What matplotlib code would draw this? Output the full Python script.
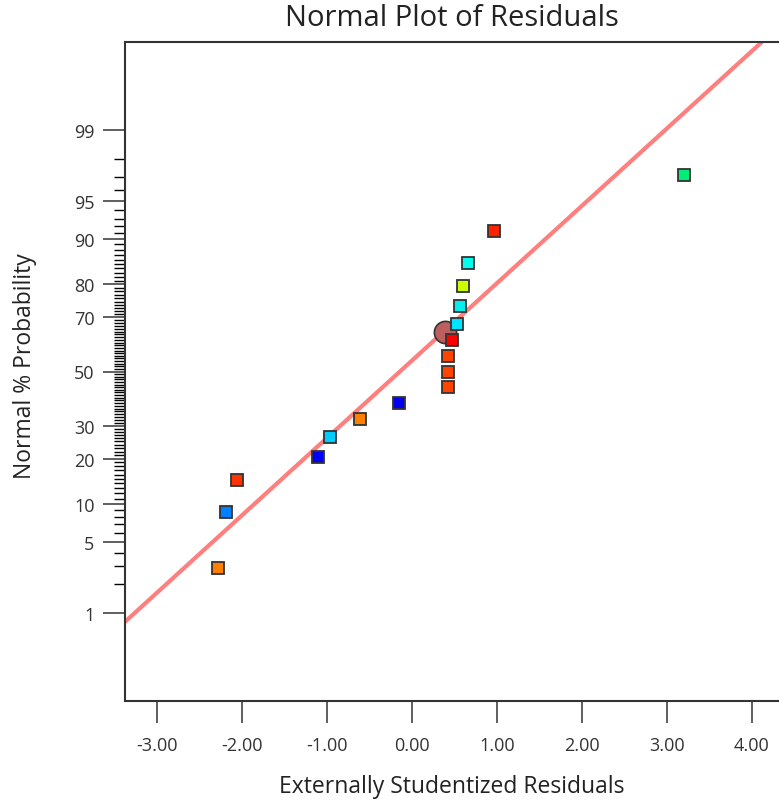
import matplotlib
matplotlib.use("Agg")
import matplotlib.pyplot as plt
from statistics import NormalDist

plt.rcParams['font.family'] = ['Open Sans', 'DejaVu Sans']

# externally studentized residuals, sorted, with their normal % probability
residuals = [-2.29, -2.19, -2.06, -1.11, -0.97, -0.61, -0.15, 0.42, 0.42, 0.42,
             0.47, 0.53, 0.57, 0.60, 0.66, 0.97, 3.20]
probability = [2.9, 8.8, 14.7, 20.6, 26.5, 32.4, 38.2, 44.1, 50.0, 55.9,
               61.8, 67.6, 73.5, 79.4, 85.3, 91.2, 97.1]
point_colors = ['#FF8000', '#0080FF', '#FF3300', '#0000FF', '#00CCFF', '#FF8000',
                '#0000EE', '#FF4400', '#FF4400', '#FF4400', '#FF0000', '#00E5FF',
                '#00EEEE', '#CCFF00', '#00FFEE', '#FF2200', '#00EE77']

# highlighted run
selected_x = 0.39
selected_pct = 64.9

# reference line, two anchor points (residual, %)
line_x = [-3.0, 3.0]
line_pct = [1.65, 99.05]

major_pct = [1, 5, 10, 20, 30, 50, 70, 80, 90, 95, 99]
minor_pct = [p for p in range(1, 100) if p not in major_pct]
x_ticks = [-3, -2, -1, 0, 1, 2, 3, 4]

nd = NormalDist()
def probit(p):
    return nd.inv_cdf(p / 100.0)

W, H = 779, 804
fig = plt.figure(figsize=(W / 100, H / 100), dpi=100)
ax = fig.add_axes([125 / W, (H - 702) / H, (W - 125) / W, (702 - 43) / H])

ax.axline((line_x[0], probit(line_pct[0])), (line_x[1], probit(line_pct[1])),
          color='#FF7F7F', lw=3, zorder=2, solid_capstyle='butt')

ax.plot(selected_x, probit(selected_pct), 'o', ms=16, mfc='#BE5F5F',
        mec='#333333', mew=1.2, zorder=3)

for x, p, c in zip(residuals, probability, point_colors):
    ax.plot(x, probit(p), 's', ms=9, mfc=c, mec='#333333', mew=1.3, zorder=4)

ax.set_xlim(-3.38, 4.32)
ax.set_ylim(-3.18, 3.18)

ax.set_xticks(x_ticks)
ax.set_xticklabels([f"{v:.2f}" for v in x_ticks])
ax.set_yticks([probit(p) for p in major_pct])
ax.set_yticklabels([str(p) for p in major_pct])
ax.set_yticks([probit(p) for p in minor_pct], minor=True)

ax.tick_params(axis='both', colors='#444444', labelcolor='#333333', labelsize=13, width=1.2)
ax.tick_params(axis='x', length=16, pad=9)
ax.tick_params(axis='y', which='major', length=16, pad=6)
ax.tick_params(axis='y', which='minor', length=8, width=1.0)

for side in ['left', 'bottom', 'top']:
    ax.spines[side].set_color('#333333')
    ax.spines[side].set_linewidth(1.5)
ax.spines['right'].set_visible(False)

fig.text(452 / W, 1 - 19 / H, "Normal Plot of Residuals", ha='center', va='center',
         fontsize=21, color='#222222')
fig.text(452 / W, 1 - 787 / H, "Externally Studentized Residuals", ha='center',
         va='center', fontsize=16.5, color='#222222')
fig.text(25 / W, 1 - 366 / H, "Normal % Probability", ha='center', va='center',
         rotation=90, fontsize=16.5, color='#222222')

fig.savefig("out.png", dpi=100)
